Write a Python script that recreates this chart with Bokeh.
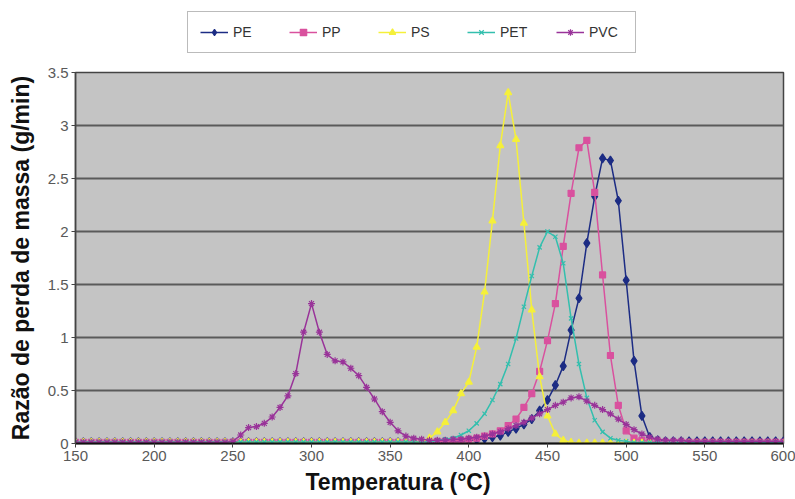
from bokeh.plotting import figure
from bokeh.layouts import column
from bokeh.models import Legend, LegendItem, FixedTicker, Range1d, Title
from bokeh.embed import file_html
from bokeh.resources import INLINE

# Temperature (°C), every 5 degrees from 150 to 600
temps = list(range(150, 605, 5))

pe = ([0.01] * 45 +
      [0.01, 0.01, 0.015, 0.02, 0.02,
       0.03, 0.035, 0.045, 0.06, 0.075, 0.11, 0.14, 0.18, 0.23, 0.31,
       0.41, 0.55, 0.73, 1.07, 1.37, 1.89, 2.33, 2.69, 2.67, 2.29,
       1.54, 0.78, 0.26, 0.06, 0.03] +
      [0.02] * 16)

pp = ([0.01] * 45 +
      [0.015, 0.02, 0.02, 0.025, 0.03,
       0.04, 0.05, 0.07, 0.09, 0.12, 0.17, 0.23, 0.34, 0.47, 0.68,
       0.97, 1.32, 1.86, 2.36, 2.79, 2.86, 2.37, 1.59, 0.83, 0.36,
       0.12, 0.05, 0.03, 0.02, 0.02] +
      [0.01] * 16)

ps = ([0.01] * 44 +
      [0.02, 0.05, 0.11, 0.20, 0.31, 0.47, 0.58, 0.91, 1.43, 2.10,
       2.81, 3.31, 2.87, 2.08, 1.26, 0.63, 0.26, 0.09, 0.03, 0.01] +
      [0.005] * 27)

pet = ([0.015] * 46 +
       [0.03, 0.04, 0.05, 0.08, 0.12, 0.19, 0.28, 0.41, 0.56, 0.75,
        0.99, 1.29, 1.58, 1.85, 2.00, 1.95, 1.70, 1.18, 0.75, 0.43,
        0.22, 0.11, 0.05, 0.03, 0.02] +
       [0.01] * 20)

pvc = ([0.01] * 20 +
       [0.02, 0.08, 0.15, 0.16, 0.19, 0.25, 0.34, 0.45, 0.66, 1.05,
        1.32, 1.05, 0.84, 0.78, 0.77, 0.71, 0.64, 0.53, 0.42, 0.30,
        0.20, 0.12, 0.07, 0.05, 0.04, 0.03, 0.03, 0.03, 0.04, 0.04,
        0.05, 0.06, 0.07, 0.09, 0.11, 0.14, 0.17, 0.20, 0.24, 0.28,
        0.32, 0.36, 0.39, 0.43, 0.44, 0.40, 0.36, 0.32, 0.28, 0.23,
        0.18, 0.13, 0.09, 0.06, 0.04] +
       [0.03, 0.03, 0.03] + [0.02] * 13)

series_names = ["PE", "PP", "PS", "PET", "PVC"]
series_values = [pe, pp, ps, pet, pvc]
series_colors = ["#1c2c84", "#d9519e", "#f5f03a", "#33bfae", "#993399"]
series_markers = ["diamond", "square", "triangle", "x", "asterisk"]
marker_sizes = [9, 6, 7, 6, 7]

x_ticks = [150, 200, 250, 300, 350, 400, 450, 500, 550, 600]
y_ticks = [0, 0.5, 1, 1.5, 2, 2.5, 3, 3.5]
y_tick_labels = ["0", "0.5", "1", "1.5", "2", "2.5", "3", "3.5"]

FONT = "Liberation Sans"

p = figure(width=795, height=437, x_range=Range1d(150, 600), y_range=Range1d(0, 3.5),
           output_backend="svg", toolbar_location=None,
           min_border_left=75, min_border_right=12, min_border_top=10, min_border_bottom=56)

p.background_fill_color = "#c4c4c4"
p.border_fill_color = "white"
p.outline_line_color = "#444444"
p.outline_line_width = 1.5

p.xgrid.visible = False
p.ygrid.grid_line_color = "#5a5a5a"
p.ygrid.grid_line_width = 2

p.xaxis.ticker = FixedTicker(ticks=x_ticks)
p.yaxis.ticker = FixedTicker(ticks=y_ticks)
p.yaxis.major_label_overrides = {t: l for t, l in zip(y_ticks, y_tick_labels)}

for ax in (p.xaxis, p.yaxis):
    ax.major_label_text_font = FONT
    ax.major_label_text_font_size = "15px"
    ax.major_label_text_color = "#595959"
    ax.minor_tick_line_color = None
    ax.major_tick_in = 0
    ax.major_tick_out = 4
    ax.major_tick_line_color = "#444444"
    ax.major_label_standoff = 3

p.xaxis.axis_line_color = "#111111"
p.xaxis.axis_line_width = 2
p.yaxis.axis_line_color = "#444444"
p.yaxis.axis_line_width = 1.5

p.yaxis.axis_label = "Razão de perda de massa (g/min)"
p.yaxis.axis_label_text_font = FONT
p.yaxis.axis_label_text_font_size = "23px"
p.yaxis.axis_label_text_font_style = "bold"
p.yaxis.axis_label_text_color = "#111111"
p.yaxis.axis_label_standoff = 11

xtitle = Title(text="Temperatura (°C)", align="left", offset=230,
               text_font=FONT, text_font_size="23px", text_font_style="bold",
               text_color="#111111", standoff=7)
p.add_layout(xtitle, "below")

# legend strip drawn as its own small figure above the chart
lg = figure(width=795, height=62, x_range=Range1d(0, 1), y_range=Range1d(0, 1),
            output_backend="svg", toolbar_location=None,
            x_axis_type=None, y_axis_type=None, min_border=0)
lg.outline_line_color = None
lg.background_fill_color = "white"
lg.border_fill_color = "white"
lg.xgrid.visible = False
lg.ygrid.visible = False

items = []
for name, vals, col, mk, ms in zip(series_names, series_values, series_colors,
                                   series_markers, marker_sizes):
    p.line(temps, vals, line_color=col, line_width=1.5)
    p.scatter(temps, vals, marker=mk, size=ms, fill_color=col,
              line_color=col, line_width=1.2)
    # key renderers: first data point, which lies outside the strip's 0..1 range
    kl = lg.line(temps[:1], vals[:1], line_color=col, line_width=1.5)
    ks = lg.scatter(temps[:1], vals[:1], marker=mk, size=ms, fill_color=col,
                    line_color=col, line_width=1.2)
    items.append(LegendItem(label=name, renderers=[kl, ks]))

legend = Legend(items=items, orientation="horizontal", location=(112, 9),
                padding=12, spacing=22, glyph_width=28, glyph_height=16,
                label_standoff=5, label_width=34,
                label_text_font=FONT, label_text_font_size="14px",
                label_text_color="#333333",
                border_line_color="#777777", border_line_width=1.5,
                background_fill_color="white", background_fill_alpha=1.0)
lg.add_layout(legend, "center")

layout = column(lg, p, spacing=0)
open("out.html", "w").write(file_html(layout, INLINE))
